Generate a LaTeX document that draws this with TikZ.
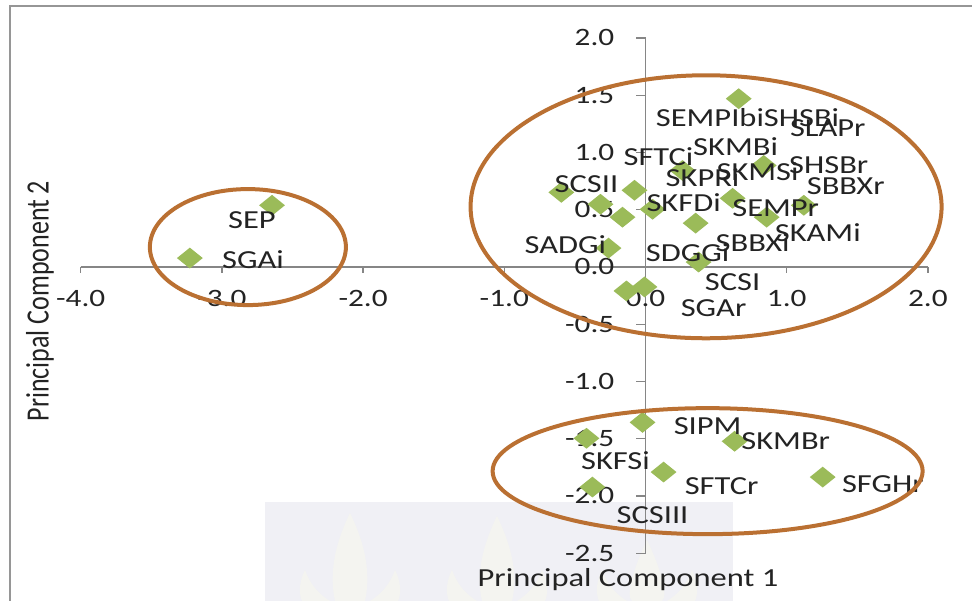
\documentclass[tikz,border=0pt]{standalone}
\usepackage{fontspec}
\setmainfont{Carlito}[FakeStretch=1.25]
\newfontfamily\plaincarlito{Carlito}
\usetikzlibrary{shapes.geometric}

\definecolor{ptgreen}{RGB}{155,187,89}
\definecolor{ringbrown}{RGB}{186,112,50}
\definecolor{axisgray}{RGB}{134,134,134}
\definecolor{framegray}{RGB}{150,150,150}
\definecolor{labelink}{RGB}{35,35,35}
\definecolor{markbg}{RGB}{240,240,245}
\definecolor{markleaf}{RGB}{244,244,240}

\tikzset{
  axisline/.style={draw=axisgray, line width=1.3pt},
  ticklbl/.style={font=\fontsize{25}{29}\selectfont, text=labelink, inner sep=0pt,
                  text height=15.8pt, text depth=0pt},
  lbl/.style={font=\fontsize{26}{30}\selectfont, text=labelink, inner sep=0pt,
              text height=16.7pt, text depth=0pt},
  ttl/.style={font=\fontsize{26}{30}\selectfont, text=labelink, inner sep=0pt},
  marker/.style={diamond, fill=ptgreen, draw=none, inner sep=0pt,
                 minimum width=26pt, minimum height=21pt},
  ring/.style={draw=ringbrown, line width=4pt},
}

\begin{document}
\begin{tikzpicture}[x=1pt, y=1pt]
\useasboundingbox (0,0) rectangle (972,-601);

% chart frame (top and left edges)
\draw[framegray, line width=2pt] (9.5,-601) -- (9.5,-6.5) -- (972,-6.5);

% faint lamp watermark behind the lower part of the plot
\fill[markbg] (265,-502) rectangle (733,-601);
\foreach \cx/\top in {350/513, 497/516, 647/540} {
  \fill[markleaf] (\cx,-\top) .. controls (\cx-12,-\top-25) and (\cx-22,-\top-55) .. (\cx-15,-601)
    -- (\cx+15,-601) .. controls (\cx+22,-\top-55) and (\cx+12,-\top-25) .. (\cx,-\top) -- cycle;
  \fill[markleaf] (\cx-45,-570) .. controls (\cx-40,-585) and (\cx-30,-595) .. (\cx-20,-601)
    -- (\cx-48,-601) .. controls (\cx-52,-592) and (\cx-50,-580) .. (\cx-45,-570) -- cycle;
  \fill[markleaf] (\cx+45,-570) .. controls (\cx+40,-585) and (\cx+30,-595) .. (\cx+20,-601)
    -- (\cx+48,-601) .. controls (\cx+52,-592) and (\cx+50,-580) .. (\cx+45,-570) -- cycle;
}

% axis titles
\node[ttl] (xtitle) at (628,-580) {Principal Component 1};
\node[ttl, font=\plaincarlito\fontsize{26}{30}\selectfont, xscale=1.25, rotate=90]
  (ytitle) at (40,-301) {Principal Component 2};

% plot area in data coordinates
\begin{scope}[shift={(645.5pt,-267pt)}, x=141.2pt, y=114.5pt]

  % axes with ticks and tick labels
  \draw[axisline] (-4,0) -- (2,0);
  \draw[axisline] (0,-2.5) -- (0,2);
  \foreach \u/\t in {-4/-4.0,-3/-3.0,-2/-2.0,-1/-1.0,0/0.0,1/1.0,2/2.0} {
    \draw[axisline] (\u,0) -- ++(0,-6pt);
    \path (\u,0) ++(0,-32pt) node[ticklbl] (xt\u) {\t};
  }
  \foreach \v/\t in {2/2.0,1.5/1.5,1/1.0,0.5/0.5,0/0.0,-0.5/-0.5,-1/-1.0,-1.5/-1.5,-2/-2.0,-2.5/-2.5} {
    \draw[axisline] (0,\v) -- ++(-10pt,0);
    \path (0,\v) ++(-31pt,0) node[ticklbl, anchor=east] (yt\v) {\t};
  }

  % scores
  \foreach \u/\v [count=\i] in {
      -2.645/0.539, -3.227/0.078,
      0.660/1.470, 0.262/0.843, 0.837/0.887, -0.596/0.652, -0.078/0.670,
      -0.319/0.548, -0.163/0.435, 0.050/0.504, 0.617/0.600, 1.121/0.539,
      0.858/0.435, 0.355/0.383, -0.262/0.165, 0.376/0.043, -0.135/-0.209,
      -0.007/-0.174,
      -0.021/-1.357, -0.418/-1.496, 0.631/-1.522, 0.128/-1.791,
      1.255/-1.835, -0.376/-1.922} {
    \node[marker] (pt\i) at (\u,\v) {};
  }

  % sample names
  \foreach \u/\v/\t in {
      -2.787/0.409/SEP, -2.780/0.061/SGAi,
      0.723/1.304/SEMPIbiSHSBi, 1.291/1.209/SLAPr, 0.638/1.043/SKMBi,
      0.092/0.957/SFTCi, 0.404/0.774/SKPRi, 0.794/0.826/SKMSi,
      1.298/0.887/SHSBr, 1.418/0.704/SBBXr, -0.418/0.722/SCSII,
      0.270/0.557/SKFDi, 0.922/0.513/SEMPr, 1.220/0.296/SKAMi,
      0.759/0.209/SBBXi, -0.567/0.191/SADGi, 0.298/0.122/SDGGi,
      0.617/-0.130/SCSI, 0.482/-0.357/SGAr,
      0.440/-1.391/SIPM, 0.993/-1.522/SKMBr, -0.213/-1.696/SKFSi,
      0.539/-1.913/SFTCr, 1.681/-1.896/SFGHr, 0.050/-2.165/SCSIII} {
    \node[lbl] (name-\t) at (\u,\v) {\t};
  }

  % cluster rings
  \draw[ring] (-2.816,0.174) ellipse [x radius=98pt, y radius=58pt];
  \draw[ring] (0.429,0.526) ellipse [x radius=235.5pt, y radius=131.5pt];
  \draw[ring] (0.440,-1.783) ellipse [x radius=215pt, y radius=63pt];
\end{scope}
\end{tikzpicture}
\end{document}
